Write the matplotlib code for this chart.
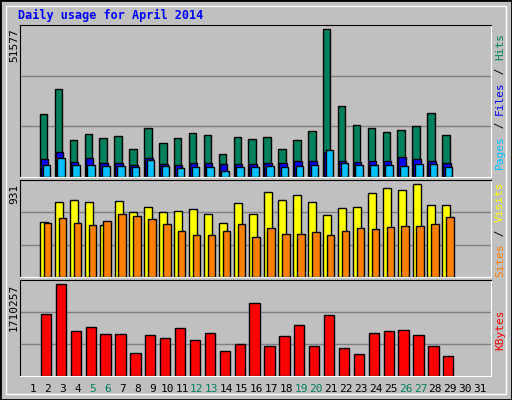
import matplotlib.pyplot as plt
import numpy as np

days = np.arange(2, 30)
hits = [22170, 30570, 13070, 15170, 13770, 14470, 9920, 17270, 12020, 13770, 15520, 14820, 8170, 14120,
        13420, 14120, 9920, 13070, 16220, 51577, 24620, 18320, 17270, 15870, 16570, 17970, 22520, 14820]
files = [6420, 8870, 5370, 6770, 5020, 5020, 4320, 6770, 4670, 4320, 5020, 5020, 4670, 4670,
         4670, 5020, 5020, 5720, 5720, 8870, 5720, 5370, 5720, 5720, 7120, 6420, 5720, 5020]
pages = [4320, 6770, 4320, 4320, 3970, 3970, 3620, 6070, 3970, 3270, 3620, 3620, 2220, 3620,
         3620, 3970, 3620, 3970, 4320, 9570, 5020, 4320, 4320, 4320, 3970, 4670, 4670, 3620]
visits = [557, 749, 769, 749, 526, 759, 648, 698, 648, 658, 678, 637, 546, 739,
          637, 850, 769, 820, 749, 627, 688, 698, 840, 890, 870, 931, 718, 718]
sites = [546, 597, 546, 526, 567, 637, 617, 587, 536, 465, 425, 425, 465, 536,
         405, 496, 435, 435, 455, 425, 465, 496, 486, 506, 516, 516, 536, 607]
kbytes = [1148500, 1710257, 830200, 905100, 774000, 774000, 436900, 755300, 717800, 886400, 680400, 792700, 474400, 605500,
          1354500, 568000, 736600, 942500, 568000, 1129800, 530600, 418200, 792700, 830200, 848900, 755300, 568000, 380800]
weekends = [5, 6, 12, 13, 19, 20, 26, 27]

W, H = 512, 400
BG = '#c0c0c0'
fig = plt.figure(figsize=(W / 100, H / 100), dpi=100, facecolor=BG)
fig.patches.append(plt.Rectangle((0, 0), 1, 1, transform=fig.transFigure, fill=False,
                                 edgecolor='black', linewidth=2))
fig.patches.append(plt.Rectangle((6 / W, 6 / H), 1 - 12 / W, 1 - 12 / H, transform=fig.transFigure,
                                 fill=False, edgecolor='white', linewidth=1))

x0, x1 = 20, 490.7
xlo, xhi = 0.13, 31.72
mono = 'DejaVu Sans Mono'


def panel(top, bot, ymax):
    ax = fig.add_axes([x0 / W, 1 - bot / H, (x1 - x0) / W, (bot - top) / H])
    ax.set_facecolor(BG)
    ax.set_xlim(xlo, xhi)
    ax.set_ylim(0, ymax)
    ax.set_xticks([])
    ax.set_yticks([])
    for y in (ymax / 3, 2 * ymax / 3):
        ax.axhline(y, color='#808080', linewidth=1, zorder=0)
    for s in ax.spines.values():
        s.set_color('white')
    ax.spines['left'].set_color('black')
    ax.spines['top'].set_color('black')
    return ax


d = np.array(days, dtype=float)
ek = dict(edgecolor='black', linewidth=1, align='edge')

ax1 = panel(25, 177, 53080)
ax1.bar(d - 8 / 14.9, hits, width=7.5 / 14.9, color='#00805c', **ek)
ax1.bar(d - 7 / 14.9, files, width=7.5 / 14.9, color='#0000ff', **ek)
ax1.bar(d - 5.3 / 14.9, pages, width=7.5 / 14.9, color='#00c0ff', **ek)

ax2 = panel(180, 277, 974)
ax2.bar(d - 7.8 / 14.9, visits, width=8 / 14.9, color='#ffff00', **ek)
ax2.bar(d - 4 / 14.9, sites, width=7.5 / 14.9, color='#ff8000', **ek)

ax3 = panel(280, 376, 1790000)
ax3.bar(d - 7 / 14.9, kbytes, width=10.3 / 14.9, color='#ff0000', **ek)

fig.text(18 / W, 1 - 15 / H, 'Daily usage for April 2014', color='#0000ff', family=mono,
         fontsize=8.5, fontweight='bold', va='center')
for ytop, lab in ((28, '51577'), (184, '931'), (284, '1710257')):
    fig.text(14 / W, 1 - ytop / H, lab, rotation=90, family=mono, fontsize=8, va='top', ha='center')


def right_label(ycenter, parts):
    # stack coloured words bottom-to-top along the right edge
    total = sum(len(p) for p, _ in parts)
    y = ycenter + total * 3.4
    for txt, col in parts:
        fig.text(500 / W, 1 - y / H, txt, rotation=90, color=col, family=mono, fontsize=8,
                 ha='center', va='bottom')
        y -= len(txt) * 6.8


right_label(101, [('Pages', '#00c0ff'), (' / ', '#000000'), ('Files', '#0000ff'), (' / ', '#000000'), ('Hits', '#00805c')])
right_label(229, [('Sites', '#ff8000'), (' / ', '#000000'), ('Visits', '#ffff00')])
right_label(330, [('KBytes', '#ff0000')])

for day in range(1, 32):
    xp = 33 + (day - 1) * (480 - 33) / 30
    fig.text(xp / W, 1 - 389 / H, str(day), family=mono, fontsize=8, ha='center', va='center',
             color='#00805c' if day in weekends else 'black')

fig.savefig('out.png', dpi=100, facecolor=BG)
